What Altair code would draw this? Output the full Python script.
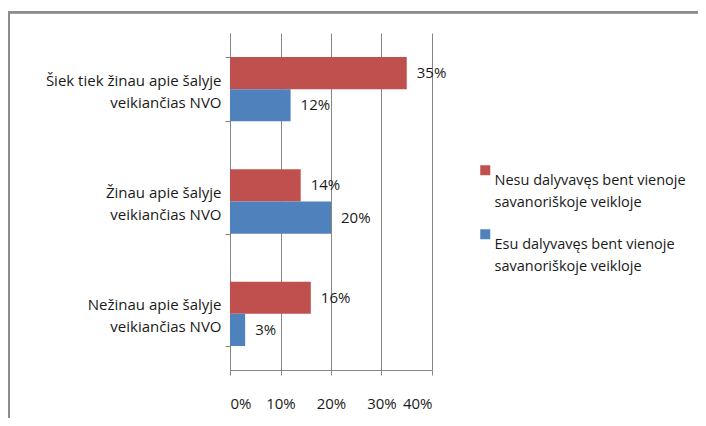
import altair as alt
import pandas as pd

categories = [
    "Šiek tiek žinau apie šalyje\nveikiančias NVO",
    "Žinau apie šalyje\nveikiančias NVO",
    "Nežinau apie šalyje\nveikiančias NVO",
]
series = [
    "Nesu dalyvavęs bent vienoje\nsavanoriškoje veikloje",
    "Esu dalyvavęs bent vienoje\nsavanoriškoje veikloje",
]
nesu_values = [0.35, 0.14, 0.16]
esu_values = [0.12, 0.20, 0.03]
x_ticks = [0, 0.1, 0.2, 0.3, 0.4]
colors = ["#C0504D", "#4F81BD"]

rows = []
for cat, a, b in zip(categories, nesu_values, esu_values):
    rows.append({"cat": cat, "series": series[0], "value": a})
    rows.append({"cat": cat, "series": series[1], "value": b})
df = pd.DataFrame(rows)

FONT = "Open Sans"
FS = 15
TXT = "#1a1a1a"
GRAY = "#868686"

base = alt.Chart(df).encode(
    y=alt.Y(
        "cat:N",
        sort=categories,
        title=None,
        scale=alt.Scale(paddingInner=0.427, paddingOuter=0.2135),
        axis=alt.Axis(
            tickBand="extent",
            domainColor=GRAY,
            tickColor=GRAY,
            tickSize=5,
            labelPadding=4,
            labelAlign="right",
            labelOffset=-9,
            labelFont=FONT,
            labelFontSize=FS,
            labelColor=TXT,
            labelLineHeight=22,
            labelLimit=300,
            labelExpr="split(datum.label, '\\n')",
        ),
    ),
    x=alt.X(
        "value:Q",
        title=None,
        scale=alt.Scale(domain=[0, 0.4], nice=False),
        axis=alt.Axis(
            values=x_ticks,
            format=".0%",
            grid=True,
            gridColor=GRAY,
            domainColor=GRAY,
            tickColor=GRAY,
            tickSize=5,
            labelPadding=21,
            labelFont=FONT,
            labelFontSize=FS,
            labelColor=TXT,
        ),
    ),
    yOffset=alt.YOffset("series:N", sort=series, scale=alt.Scale(paddingInner=0, paddingOuter=0)),
)

bars = base.mark_bar().encode(
    color=alt.Color(
        "series:N",
        sort=series,
        scale=alt.Scale(domain=series, range=colors),
        legend=alt.Legend(
            title=None,
            orient="none",
            legendX=248,
            legendY=141,
            padding=0,
            symbolType="M-1,-3.2H1V-1.2H-1Z",
            symbolSize=100,
            symbolStrokeWidth=0,
            labelOffset=2,
            rowPadding=19,
            labelFont=FONT,
            labelFontSize=14.5,
            labelColor=TXT,
            labelLimit=400,
            labelExpr="split(datum.label, '\\n')",
        ),
    )
)

labels = base.mark_text(align="left", baseline="middle", dx=10, font=FONT, fontSize=FS, color=TXT).encode(
    text=alt.Text("value:Q", format=".0%")
)

frame_top = alt.Chart(df).mark_rule(stroke="#8c8c8c", strokeWidth=2).encode(
    x=alt.value(-222), x2=alt.value(470), y=alt.value(-20.7)
)
frame_left = alt.Chart(df).mark_rule(stroke="#8c8c8c", strokeWidth=2).encode(
    x=alt.value(-221), y=alt.value(-21.7), y2=alt.value(400)
)

chart = (
    alt.layer(frame_top, frame_left, bars, labels)
    .properties(
        width=202,
        height=337,
        autosize=alt.AutoSizeParams(type="none"),
        padding={"left": 222, "top": 25, "right": 266, "bottom": 48},
    )
    .configure(style={"guide-label": {"lineHeight": 22}})
    .configure_view(stroke=None)
)

chart.save("out.html", embed_options={"renderer": "svg", "actions": False})
